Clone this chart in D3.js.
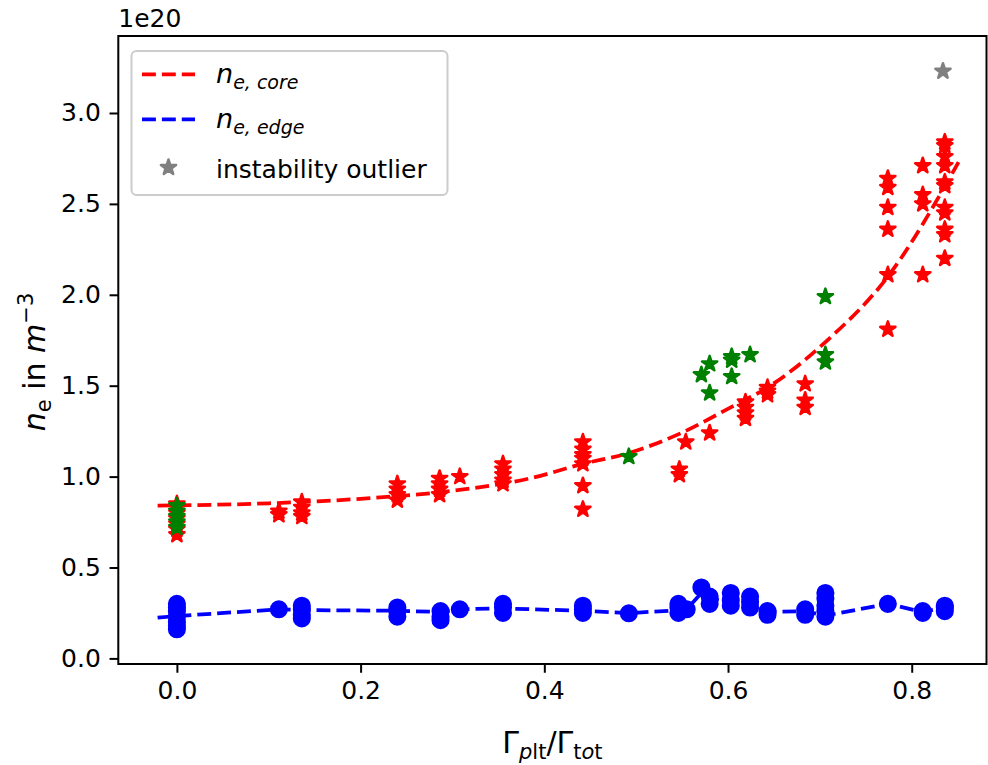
<!DOCTYPE html>
<html>
<head>
<meta charset="utf-8">
<script src="https://cdn.jsdelivr.net/npm/d3@7"></script>
<style>
  html, body { margin: 0; padding: 0; background: #fff; }
  svg { display: block; font-family: "DejaVu Sans", sans-serif; }
</style>
</head>
<body>
<svg id="chart" width="988" height="765"></svg>
<script>
// Core density samples (flux ratio, density in 1e20 m^-3), red stars
const coreStars = [
  [0, 0.68], [0, 0.71], [0, 0.74], [0, 0.77], [0, 0.80], [0, 0.83], [0, 0.85],
  [0.111, 0.79], [0.111, 0.81],
  [0.136, 0.78], [0.136, 0.80], [0.136, 0.83], [0.136, 0.86],
  [0.240, 0.87], [0.240, 0.90], [0.240, 0.93], [0.240, 0.96],
  [0.286, 0.90], [0.286, 0.93], [0.286, 0.96], [0.286, 0.99],
  [0.308, 1.00],
  [0.355, 0.96], [0.355, 0.98], [0.355, 1.01], [0.355, 1.04], [0.355, 1.07],
  [0.442, 0.82], [0.442, 0.95], [0.442, 1.07], [0.442, 1.10], [0.442, 1.12], [0.442, 1.15], [0.442, 1.19],
  [0.547, 1.01], [0.547, 1.04],
  [0.554, 1.19],
  [0.580, 1.24],
  [0.619, 1.32], [0.619, 1.35], [0.619, 1.38], [0.619, 1.41],
  [0.643, 1.45], [0.643, 1.47], [0.643, 1.49],
  [0.684, 1.38], [0.684, 1.42], [0.684, 1.51],
  [0.774, 1.81], [0.774, 2.11], [0.774, 2.36], [0.774, 2.48], [0.774, 2.59], [0.774, 2.64],
  [0.812, 2.11], [0.812, 2.50], [0.812, 2.55], [0.812, 2.71],
  [0.836, 2.20], [0.836, 2.33], [0.836, 2.36], [0.836, 2.45], [0.836, 2.48], [0.836, 2.60],
  [0.836, 2.62], [0.836, 2.71], [0.836, 2.76], [0.836, 2.82], [0.836, 2.84]
];

// Additional core samples, green stars
const greenStars = [
  [0, 0.72], [0, 0.75], [0, 0.78], [0, 0.81], [0, 0.84],
  [0.492, 1.11],
  [0.571, 1.56],
  [0.580, 1.46], [0.580, 1.62],
  [0.604, 1.55], [0.604, 1.64], [0.604, 1.66],
  [0.624, 1.67],
  [0.706, 1.63], [0.706, 1.67], [0.706, 1.99]
];

// Discharge flagged as instability outlier
const outlierStars = [[0.834, 3.23]];

// Edge density samples, blue dots
const edgeDots = [
  [0, 0.16], [0, 0.18], [0, 0.20], [0, 0.23], [0, 0.26], [0, 0.28], [0, 0.30],
  [0.111, 0.27],
  [0.136, 0.22], [0.136, 0.24], [0.136, 0.27], [0.136, 0.29],
  [0.240, 0.23], [0.240, 0.26], [0.240, 0.28],
  [0.287, 0.21], [0.287, 0.23], [0.287, 0.26],
  [0.308, 0.27],
  [0.355, 0.25], [0.355, 0.28], [0.355, 0.30],
  [0.442, 0.25], [0.442, 0.27], [0.442, 0.29],
  [0.492, 0.248],
  [0.546, 0.25], [0.546, 0.28], [0.546, 0.30],
  [0.555, 0.27],
  [0.571, 0.39],
  [0.580, 0.30], [0.580, 0.34],
  [0.603, 0.29], [0.603, 0.32], [0.603, 0.36],
  [0.624, 0.28], [0.624, 0.31], [0.624, 0.34],
  [0.643, 0.24], [0.643, 0.26],
  [0.684, 0.24], [0.684, 0.27],
  [0.706, 0.23], [0.706, 0.26], [0.706, 0.29], [0.706, 0.33], [0.706, 0.36],
  [0.774, 0.30],
  [0.812, 0.25], [0.812, 0.26],
  [0.836, 0.26], [0.836, 0.28], [0.836, 0.29]
];

// Exponential trend of the core density
const coreFit = [
  [-0.021, 0.84], [0.1, 0.853], [0.2, 0.878], [0.3, 0.922], [0.384, 0.99],
  [0.442, 1.07], [0.492, 1.13], [0.547, 1.235], [0.604, 1.384], [0.643, 1.49],
  [0.706, 1.74], [0.774, 2.10], [0.851, 2.73]
];

// Trend of the edge density
const edgeTrend = [
  [-0.021, 0.224], [0, 0.233], [0.111, 0.27], [0.136, 0.266], [0.240, 0.262],
  [0.287, 0.255], [0.308, 0.27], [0.355, 0.275], [0.442, 0.262], [0.492, 0.249],
  [0.546, 0.265], [0.555, 0.27], [0.571, 0.36], [0.580, 0.33], [0.603, 0.31],
  [0.624, 0.30], [0.643, 0.255], [0.684, 0.26], [0.706, 0.235], [0.774, 0.30],
  [0.812, 0.255], [0.836, 0.28], [0.851, 0.285]
];

const xTicks = [0, 0.2, 0.4, 0.6, 0.8];
const yTicks = [0, 0.5, 1.0, 1.5, 2.0, 2.5, 3.0];

const frame = { left: 118.3, right: 986.5, top: 36, bottom: 664 };

const svg = d3.select("#chart");

const x = d3.scaleLinear().domain([-0.0638, 0.8814]).range([frame.left, frame.right]);
const y = d3.scaleLinear().domain([-0.0308, 3.4235]).range([frame.bottom, frame.top]);

const plot = svg.append("g");

// Trend lines
const dash = "13.9,6";
plot.append("path")
  .datum(coreFit)
  .attr("d", d3.line().x(d => x(d[0])).y(d => y(d[1])).curve(d3.curveMonotoneX))
  .attr("fill", "none").attr("stroke", "#ff0000")
  .attr("stroke-width", 3.75).attr("stroke-dasharray", dash);
plot.append("path")
  .datum(edgeTrend)
  .attr("d", d3.line().x(d => x(d[0])).y(d => y(d[1])))
  .attr("fill", "none").attr("stroke", "#0000ff")
  .attr("stroke-width", 3.75).attr("stroke-dasharray", dash);

const starR = 8;
const star = d3.symbol().type(d3.symbolStar).size(starR * starR / 0.8908130915292852);

function drawStars(data, color) {
  plot.append("g").selectAll("path").data(data).join("path")
    .attr("d", star)
    .attr("transform", d => `translate(${x(d[0])},${y(d[1])})`)
    .attr("fill", color).attr("stroke", color)
    .attr("stroke-width", 2.5).attr("stroke-linejoin", "round");
}
drawStars(coreStars, "#ff0000");
drawStars(greenStars, "#008000");

plot.append("g").selectAll("circle").data(edgeDots).join("circle")
  .attr("cx", d => x(d[0])).attr("cy", d => y(d[1])).attr("r", 7.8)
  .attr("fill", "#0000ff").attr("stroke", "#0000ff").attr("stroke-width", 2.5);

drawStars(outlierStars, "#808080");

// Axes
const fontPx = 25;
const tickLen = 8.75;
const xAxis = svg.append("g").attr("transform", `translate(0,${frame.bottom})`)
  .call(d3.axisBottom(x).tickValues(xTicks).tickFormat(d3.format(".1f"))
    .tickSize(tickLen).tickPadding(tickLen).tickSizeOuter(0));
const yAxis = svg.append("g").attr("transform", `translate(${frame.left},0)`)
  .call(d3.axisLeft(y).tickValues(yTicks).tickFormat(d3.format(".1f"))
    .tickSize(tickLen).tickPadding(tickLen).tickSizeOuter(0));
[xAxis, yAxis].forEach(a => {
  a.select(".domain").remove();
  a.selectAll(".tick line").attr("stroke", "#000").attr("stroke-width", 2);
  a.selectAll(".tick text").attr("fill", "#000")
    .style("font-family", "DejaVu Sans").style("font-size", fontPx + "px");
});

// Frame
svg.append("rect")
  .attr("x", frame.left).attr("y", frame.top)
  .attr("width", frame.right - frame.left).attr("height", frame.bottom - frame.top)
  .attr("fill", "none").attr("stroke", "#000").attr("stroke-width", 2);

// Offset text
svg.append("text").attr("x", frame.left).attr("y", 27)
  .style("font-size", fontPx + "px").text("1e20");

// X label
const xl = svg.append("text")
  .attr("x", (frame.left + frame.right) / 2).attr("y", 753)
  .attr("text-anchor", "middle").style("font-size", "30px");
xl.append("tspan").text("Γ");
xl.append("tspan").attr("dy", 6).style("font-size", "21px").style("font-style", "italic").text("p");
xl.append("tspan").style("font-size", "21px").text("lt");
xl.append("tspan").attr("dy", -6).text("/Γ");
xl.append("tspan").attr("dy", 6).style("font-size", "21px").text("t");
xl.append("tspan").style("font-size", "21px").style("font-style", "italic").text("o");
xl.append("tspan").style("font-size", "21px").text("t");

// Y label
const yl = svg.append("text")
  .attr("transform", `translate(45,${(frame.top + frame.bottom) / 2 + 12}) rotate(-90)`)
  .attr("text-anchor", "middle").style("font-size", "30px");
yl.append("tspan").style("font-style", "italic").text("n");
yl.append("tspan").attr("dy", 6).style("font-size", "21px").text("e");
yl.append("tspan").attr("dy", -6).text(" in ");
yl.append("tspan").style("font-style", "italic").text("m");
yl.append("tspan").attr("dy", -12).style("font-size", "21px").text("−3");

// Legend
const leg = svg.append("g");
leg.append("rect")
  .attr("x", 131.5).attr("y", 51).attr("width", 316).attr("height", 144)
  .attr("rx", 5).attr("fill", "#fff").attr("fill-opacity", 0.8)
  .attr("stroke", "#cccccc").attr("stroke-width", 2);

const legendItems = [
  { color: "#ff0000", kind: "line", cy: 74.3, main: "n", sub: "e, core" },
  { color: "#0000ff", kind: "line", cy: 119.3, main: "n", sub: "e, edge" },
  { color: "#808080", kind: "star", cy: 167.5, label: "instability outlier" }
];
legendItems.forEach(it => {
  if (it.kind === "line") {
    leg.append("line")
      .attr("x1", 142).attr("x2", 195).attr("y1", it.cy).attr("y2", it.cy)
      .attr("stroke", it.color).attr("stroke-width", 3.75)
      .attr("stroke-dasharray", dash);
    const t = leg.append("text").attr("x", 216).attr("y", it.cy + 9)
      .style("font-size", "27px");
    t.append("tspan").style("font-style", "italic").text(it.main);
    t.append("tspan").attr("dy", 6).style("font-size", "19px")
      .style("font-style", "italic").text(it.sub);
  } else {
    leg.append("path").attr("d", star)
      .attr("transform", `translate(168.5,${it.cy})`)
      .attr("fill", it.color).attr("stroke", it.color)
      .attr("stroke-width", 2.5).attr("stroke-linejoin", "round");
    leg.append("text").attr("x", 216).attr("y", it.cy + 10.5)
      .style("font-size", fontPx + "px").text(it.label);
  }
});
</script>
</body>
</html>
